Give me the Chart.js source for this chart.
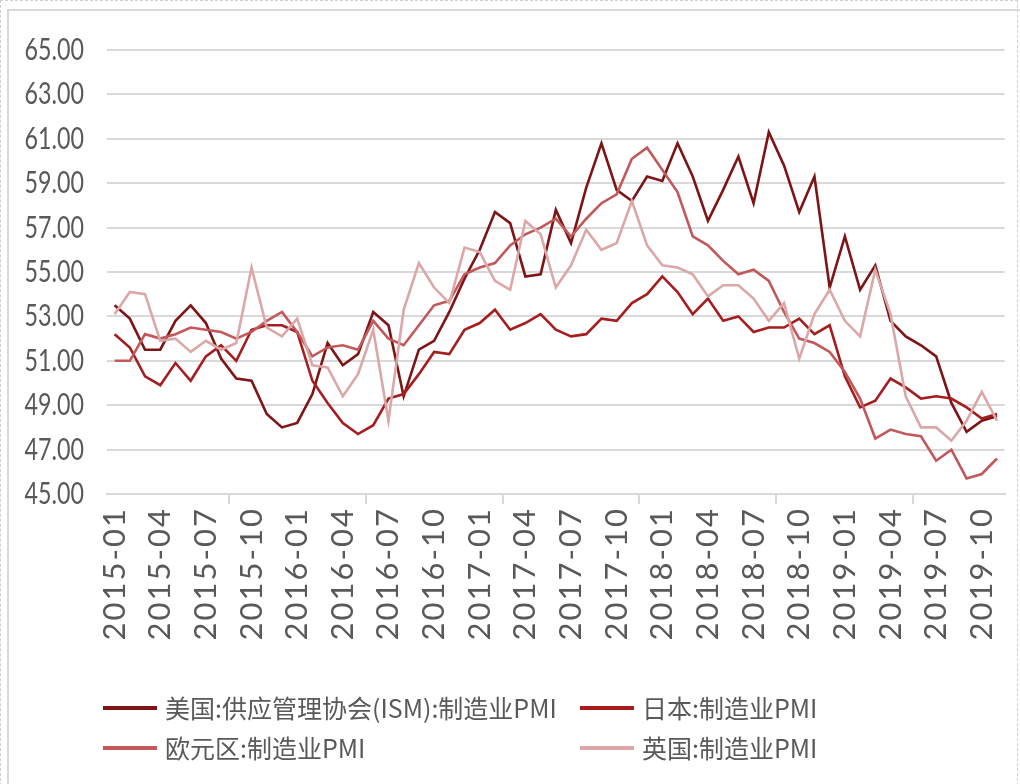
<!DOCTYPE html>
<html>
<head>
<meta charset="utf-8">
<script src="https://cdn.jsdelivr.net/npm/chart.js@4.4.1/dist/chart.umd.min.js"></script>
<style>
  html, body { margin: 0; padding: 0; background: #fff; overflow: hidden; }
  #wrap { position: relative; width: 1020px; height: 784px; overflow: hidden; }
  #dots { position: absolute; left: 0; top: 0; width: 1016px; height: 800px;
          border-left: 1px dashed #d0d0d0; border-top: 1px dashed #d0d0d0; border-right: 1px dashed #d0d0d0; }
  #frame { position: absolute; left: 7px; top: 9px; width: 1100px; height: 900px;
           border-left: 2px solid #d9d9d9; border-top: 2px solid #d9d9d9; }
  #box { position: absolute; left: 0; top: 0; width: 1022px; height: 784px; }
</style>
</head>
<body>
<div id="wrap">
  <div id="dots"></div>
  <div id="frame"></div>
  <div id="box"><canvas id="pmi-chart"></canvas></div>
</div>
<script>
// Monthly manufacturing PMI, 2015-01 .. 2019-11
const months = [];
for (let y = 2015; y <= 2019; y++) {
  for (let m = 1; m <= 12; m++) {
    if (y === 2019 && m > 11) break;
    months.push(`${y}-${String(m).padStart(2, "0")}`);
  }
}

const usIsm = [
  53.5, 52.9, 51.5, 51.5, 52.8, 53.5, 52.7, 51.1, 50.2, 50.1, 48.6, 48.0,
  48.2, 49.5, 51.8, 50.8, 51.3, 53.2, 52.6, 49.4, 51.5, 51.9, 53.2, 54.7,
  56.0, 57.7, 57.2, 54.8, 54.9, 57.8, 56.3, 58.8, 60.8, 58.7, 58.2, 59.3,
  59.1, 60.8, 59.3, 57.3, 58.7, 60.2, 58.1, 61.3, 59.8, 57.7, 59.3, 54.3,
  56.6, 54.2, 55.3, 52.8, 52.1, 51.7, 51.2, 49.1, 47.8, 48.3, 48.5,
];
const japan = [
  52.2, 51.6, 50.3, 49.9, 50.9, 50.1, 51.2, 51.7, 51.0, 52.4, 52.6, 52.6,
  52.3, 50.1, 49.1, 48.2, 47.7, 48.1, 49.3, 49.5, 50.4, 51.4, 51.3, 52.4,
  52.7, 53.3, 52.4, 52.7, 53.1, 52.4, 52.1, 52.2, 52.9, 52.8, 53.6, 54.0,
  54.8, 54.1, 53.1, 53.8, 52.8, 53.0, 52.3, 52.5, 52.5, 52.9, 52.2, 52.6,
  50.3, 48.9, 49.2, 50.2, 49.8, 49.3, 49.4, 49.3, 48.9, 48.4, 48.6,
];
const euroArea = [
  51.0, 51.0, 52.2, 52.0, 52.2, 52.5, 52.4, 52.3, 52.0, 52.3, 52.8, 53.2,
  52.3, 51.2, 51.6, 51.7, 51.5, 52.8, 52.0, 51.7, 52.6, 53.5, 53.7, 54.9,
  55.2, 55.4, 56.2, 56.7, 57.0, 57.4, 56.6, 57.4, 58.1, 58.5, 60.1, 60.6,
  59.6, 58.6, 56.6, 56.2, 55.5, 54.9, 55.1, 54.6, 53.2, 52.0, 51.8, 51.4,
  50.5, 49.3, 47.5, 47.9, 47.7, 47.6, 46.5, 47.0, 45.7, 45.9, 46.6,
];
const uk = [
  53.1, 54.1, 54.0, 51.9, 52.0, 51.4, 51.9, 51.5, 51.8, 55.2, 52.5, 52.1,
  52.9, 50.8, 50.7, 49.4, 50.4, 52.4, 48.3, 53.3, 55.4, 54.3, 53.6, 56.1,
  55.9, 54.6, 54.2, 57.3, 56.7, 54.3, 55.3, 56.9, 56.0, 56.3, 58.2, 56.2,
  55.3, 55.2, 54.9, 53.9, 54.4, 54.4, 53.8, 52.8, 53.6, 51.1, 53.1, 54.2,
  52.8, 52.1, 55.1, 53.1, 49.4, 48.0, 48.0, 47.4, 48.3, 49.6, 48.3,
];

const seriesNames = [
  "美国:供应管理协会(ISM):制造业PMI",
  "日本:制造业PMI",
  "欧元区:制造业PMI",
  "英国:制造业PMI",
];
const seriesColors = ["#7d1416", "#a51d1f", "#c2585a", "#dba7a7"];

const GRID = "#d9d9d9";
const TEXT = "#595959";
const LEGEND_X = [103, 580];
const LEGEND_Y = [708, 748];

// Two-column legend like the original (Chart.js's flow layout can't align columns)
const gridLegend = {
  id: "gridLegend",
  afterDraw(chart) {
    const c = chart.ctx;
    c.save();
    c.font = "25px 'Noto Sans CJK SC', sans-serif";
    c.textBaseline = "middle";
    chart.data.datasets.forEach((ds, i) => {
      const x = LEGEND_X[i % 2];
      const y = LEGEND_Y[Math.floor(i / 2)];
      c.fillStyle = ds.borderColor;
      c.fillRect(x, y - 2, 54, 4);
      c.fillStyle = TEXT;
      c.fillText(ds.label, x + 62, y);
    });
    c.restore();
  },
};

// y tick labels in the original are tall and narrow; no condensed font is
// installed, so draw the scale's own ticks squeezed horizontally.
const narrowYLabels = {
  id: "narrowYLabels",
  afterDraw(chart) {
    const s = chart.scales.y;
    const c = chart.ctx;
    c.save();
    c.font = "31px Lato";
    c.fillStyle = TEXT;
    c.textAlign = "right";
    c.textBaseline = "middle";
    s.ticks.forEach((t) => {
      c.save();
      c.translate(s.right - 23, s.getPixelForValue(t.value));
      c.scale(0.75, 1);
      c.fillText(t.value.toFixed(2), 0, 0);
      c.restore();
    });
    c.restore();
  },
};

// The rotated x labels are spaced out in the original; widen them with
// letterSpacing while the scales draw, then reset before the lines.
const spacedXLabels = {
  id: "spacedXLabels",
  beforeDraw(chart) { chart.ctx.letterSpacing = "2px"; },
  beforeDatasetsDraw(chart) { chart.ctx.letterSpacing = "0px"; },
};

const values = [usIsm, japan, euroArea, uk];

new Chart(document.getElementById("pmi-chart"), {
  type: "line",
  plugins: [spacedXLabels, gridLegend, narrowYLabels],
  data: {
    labels: months,
    datasets: values.map((v, i) => ({
      label: seriesNames[i],
      data: v,
      borderColor: seriesColors[i],
      backgroundColor: seriesColors[i],
      borderWidth: 2.6,
      pointRadius: 0,
      tension: 0,
      order: values.length - i, // later series on top, as in Excel
    })),
  },
  options: {
    responsive: true,
    maintainAspectRatio: false,
    animation: false,
    layout: { padding: { left: 0, top: 50, right: 0, bottom: 140 } },
    plugins: { legend: { display: false }, tooltip: { enabled: false } },
    scales: {
      x: {
        type: "category",
        offset: true,
        afterFit: (s) => { s.height = 150; },
        border: { display: true, color: GRID, width: 2 },
        grid: {
          offset: true,
          drawOnChartArea: false,
          drawTicks: true,
          tickLength: 10,
          lineWidth: 2,
          color: (ctx) => (ctx.index % 3 === 0 ? GRID : "rgba(0,0,0,0)"),
        },
        ticks: {
          autoSkip: false,
          minRotation: 90,
          maxRotation: 90,
          padding: 3,
          color: TEXT,
          font: { family: "Lato", size: 31 },
          callback: (v, i) => (i % 3 === 0 ? months[i] : null),
        },
      },
      y: {
        min: 45,
        max: 65,
        afterFit: (s) => { s.width = 107; },
        border: { display: false },
        grid: { color: GRID, lineWidth: 2, drawTicks: false },
        ticks: {
          stepSize: 2,
          display: false,
        },
      },
    },
  },
});
</script>
</body>
</html>
